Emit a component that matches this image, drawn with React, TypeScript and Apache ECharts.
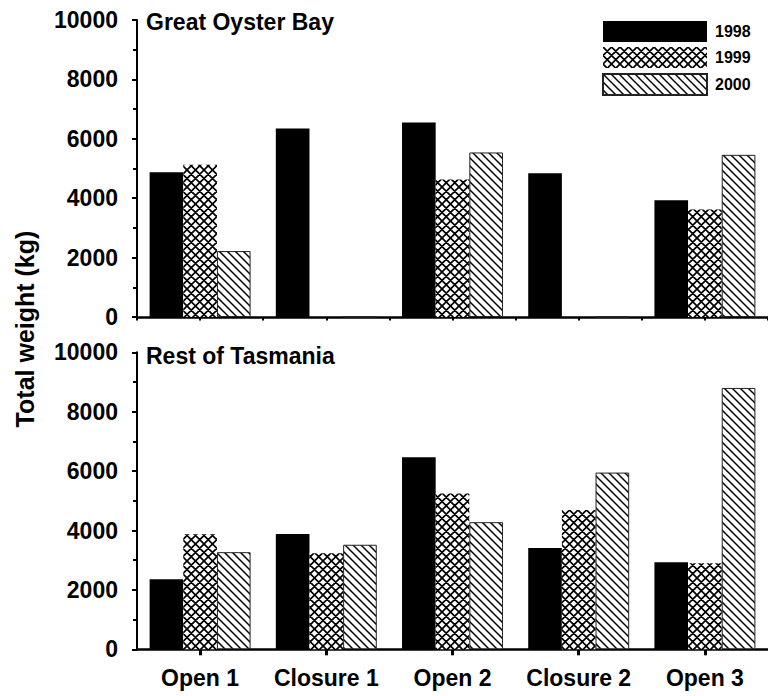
import React, { useEffect, useRef } from "react";
import * as echarts from "echarts";

const categories = ["Open 1", "Closure 1", "Open 2", "Closure 2", "Open 3"];
const years = ["1998", "1999", "2000"];
const panelTitles = ["Great Oyster Bay", "Rest of Tasmania"];
const gob1998 = [4870, 6350, 6550, 4840, 3930];
const gob1999 = [5130, 0, 4630, 0, 3620];
const gob2000 = [2220, 0, 5540, 0, 5460];
const rot1998 = [2360, 3880, 6470, 3410, 2930];
const rot1999 = [3870, 3230, 5250, 4690, 2900];
const rot2000 = [3270, 3520, 4280, 5950, 8800];
const yMax = 10000;
const yInterval = 2000;
const yTitle = "Total weight (kg)";

const FONT = "'Liberation Sans', Arial, Helvetica, sans-serif";

function svgUri(svg: string) {
  return "data:image/svg+xml;charset=utf-8," + encodeURIComponent(svg);
}

function diagPattern() {
  const s = 8;
  const svg = `<svg xmlns='http://www.w3.org/2000/svg' width='${s}' height='${s}'><rect width='${s}' height='${s}' fill='white'/><path d='M-2,-2 L10,10 M-2,6 L2,10 M6,-2 L10,2' stroke='black' stroke-width='1.5' fill='none'/></svg>`;
  return { image: svgUri(svg), repeat: "repeat", imageWidth: s, imageHeight: s } as any;
}

function crossPattern() {
  const s = 17;
  const p = 8.5;
  let d = "";
  for (let k = -4; k <= 4; k++) {
    d += `M${-20},${-20 + p * k} L${40},${40 + p * k} `;
  }
  for (let k = -1; k <= 8; k++) {
    d += `M${-20},${20 + p * k} L${40},${-40 + p * k} `;
  }
  const svg = `<svg xmlns='http://www.w3.org/2000/svg' width='${s}' height='${s}'><rect width='${s}' height='${s}' fill='white'/><path d='${d}' stroke='black' stroke-width='1.7' fill='none'/></svg>`;
  return { image: svgUri(svg), repeat: "repeat", imageWidth: s, imageHeight: s } as any;
}

export default function App() {
  const ref = useRef<HTMLDivElement>(null);
  useEffect(() => {
    if (!ref.current) return;
    const chart = echarts.init(ref.current, null, { renderer: "svg" });
    const cross = crossPattern();
    const diag = diagPattern();
    const styles = [
      { color: "#000" },
      { color: cross },
      { color: diag, borderColor: "#222", borderWidth: 1 },
    ];
    const gridLeft = 137;
    const gridWidth = 640;
    const grids = [
      { left: gridLeft, top: 20, width: gridWidth, height: 297 },
      { left: gridLeft, top: 352.3, width: gridWidth, height: 297 },
    ];
    const yAxisCommon = (gi: number) => ({
      type: "value",
      gridIndex: gi,
      min: 0,
      max: yMax,
      interval: yInterval,
      axisLine: { show: true, lineStyle: { color: "#000", width: 2 } },
      axisTick: { show: true, length: 5, lineStyle: { color: "#000", width: 2 } },
      minorTick: { show: true, splitNumber: 2, length: 4, lineStyle: { color: "#000", width: 2 } },
      splitLine: { show: false },
      axisLabel: {
        margin: 19,
        fontSize: 23,
        fontWeight: "bold",
        color: "#000",
        fontFamily: FONT,
        formatter: (v: number) => String(v),
      },
    });
    const aux = Array.from({ length: categories.length * 2 }, (_, i) => "t" + i);
    const sets = [
      [gob1998, gob1999, gob2000],
      [rot1998, rot1999, rot2000],
    ];
    const series: any[] = [];
    sets.forEach((arrs, gi) => {
      arrs.forEach((vals, si) => {
        series.push({
          type: "bar",
          name: years[si],
          xAxisIndex: gi,
          yAxisIndex: gi,
          data: vals,
          barGap: "0%",
          barCategoryGap: "20%",
          itemStyle: styles[si],
          emphasis: { disabled: true },
        });
      });
    });
    chart.setOption({
      animation: false,
      grid: grids,
      xAxis: [
        {
          type: "category",
          gridIndex: 0,
          data: categories,
          position: "bottom",
          axisLine: { show: true, lineStyle: { color: "#000", width: 2.5 } },
          axisTick: { show: false },
          axisLabel: { show: false },
        },
        {
          type: "category",
          gridIndex: 1,
          data: categories,
          position: "bottom",
          axisLine: { show: true, lineStyle: { color: "#000", width: 2.5 } },
          axisTick: { show: true, alignWithLabel: true, interval: 0, length: 6, lineStyle: { color: "#000", width: 3 } },
          axisLabel: { show: true, interval: 0, margin: 17, fontSize: 23, fontWeight: "bold", color: "#000", fontFamily: FONT },
        },
        {
          type: "category",
          gridIndex: 0,
          data: aux,
          position: "bottom",
          offset: 0,
          axisLine: { show: false },
          axisTick: { show: true, alignWithLabel: false, interval: 0, length: 3.5, lineStyle: { color: "#000", width: 2 } },
          axisLabel: { show: false },
        },
      ],
      yAxis: [yAxisCommon(0), yAxisCommon(1)],
      legend: {
        data: years,
        orient: "vertical",
        left: 597,
        top: 16,
        icon: "rect",
        itemWidth: 104,
        itemHeight: 21,
        itemGap: 5,
        selectedMode: false,
        textStyle: { fontSize: 16, fontWeight: "bold", color: "#000", fontFamily: FONT, padding: [0, 0, 0, 3] },
      },
      graphic: [
        {
          type: "text",
          left: 146,
          top: 10,
          style: { text: panelTitles[0], font: `bold 23px ${FONT}`, fill: "#000" },
        },
        {
          type: "text",
          left: 146,
          top: 344,
          style: { text: panelTitles[1], font: `bold 23px ${FONT}`, fill: "#000" },
        },
        {
          type: "text",
          x: 25,
          y: 329,
          rotation: Math.PI / 2,
          style: {
            text: yTitle,
            font: `bold 25px ${FONT}`,
            fill: "#000",
            align: "center",
            verticalAlign: "middle",
          },
        },
      ],
      series,
    });
    return () => chart.dispose();
  }, []);
  return (
    <div
      ref={ref}
      style={{ position: "absolute", left: 0, top: 0, width: 768, height: 696, background: "#fff" }}
    />
  );
}
